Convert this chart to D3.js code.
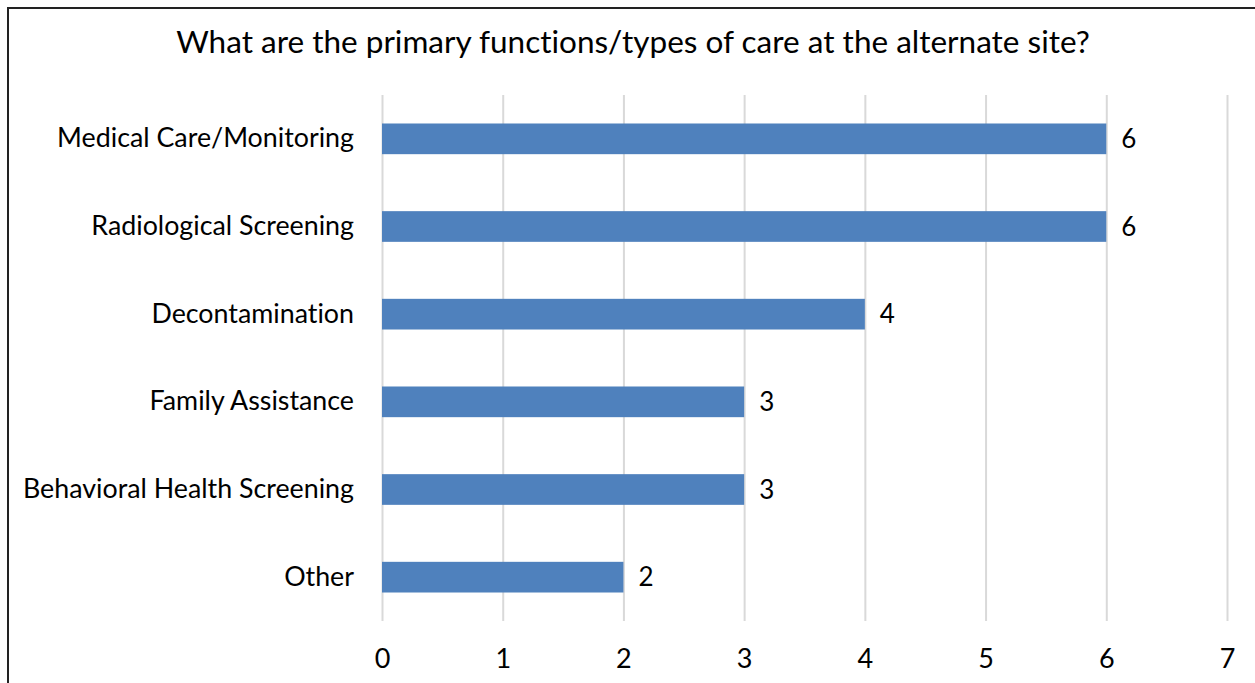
<!DOCTYPE html>
<html>
<head>
<meta charset="utf-8">
<script src="https://cdn.jsdelivr.net/npm/d3@7"></script>
<style>
  html, body { margin: 0; padding: 0; background: #fff; }
  svg { display: block; }
  text { font-family: Lato, "Open Sans", sans-serif; fill: #000; font-variant-ligatures: none; font-feature-settings: "liga" 0, "clig" 0; }
</style>
</head>
<body>
<svg id="chart" width="1255" height="683"></svg>
<script>
const title = "What are the primary functions/types of care at the alternate site?";
const categories = ["Medical Care/Monitoring", "Radiological Screening", "Decontamination", "Family Assistance", "Behavioral Health Screening", "Other"];
const values = [6, 6, 4, 3, 3, 2];
const xTicks = [0, 1, 2, 3, 4, 5, 6, 7];

const svg = d3.select("#chart");
const W = 1255, H = 683;

// frame
svg.append("rect").attr("x", 8).attr("y", 8).attr("width", W + 10).attr("height", H + 10)
  .attr("fill", "none").attr("stroke", "#222").attr("stroke-width", 2);

const x = d3.scaleLinear().domain([0, 7]).range([382, 1227]);
const y = d3.scaleBand().domain(categories).range([95, 621]).paddingInner(0.65).paddingOuter(0.325);

// title
svg.append("text").attr("x", 633).attr("y", 53).attr("text-anchor", "middle")
  .style("font-size", "31.5px").text(title);

// gridlines
const grid = svg.append("g").attr("transform", "translate(0,621)")
  .call(d3.axisBottom(x).tickValues(xTicks).tickSize(-526).tickFormat(""));
grid.select(".domain").remove();
grid.selectAll(".tick line").attr("stroke", "#d9d9d9").attr("stroke-width", 2);

// x tick labels
const xa = svg.append("g").attr("transform", "translate(0,621)")
  .call(d3.axisBottom(x).tickValues(xTicks).tickSize(0).tickPadding(0).tickFormat(d3.format("d")));
xa.select(".domain").remove();
xa.selectAll(".tick text").attr("y", 38).attr("dy", "0.35em").style("font-size", "27px").attr("fill", "#000");

// y labels
const ya = svg.append("g").attr("transform", "translate(382,0)")
  .call(d3.axisLeft(y).tickSize(0).tickPadding(28));
ya.select(".domain").remove();
ya.selectAll(".tick text").style("font-size", "26.8px").attr("fill", "#000");

// bars
svg.append("g").selectAll("rect").data(values).join("rect")
  .attr("x", x(0))
  .attr("y", (d, i) => y(categories[i]))
  .attr("width", d => x(d) - x(0))
  .attr("height", y.bandwidth())
  .attr("fill", "#4F81BD");

// value labels
svg.append("g").selectAll("text").data(values).join("text")
  .attr("x", d => x(d) + 15)
  .attr("y", (d, i) => y(categories[i]) + y.bandwidth() / 2)
  .attr("dy", "0.35em")
  .style("font-size", "26px")
  .text(d => d);
</script>
</body>
</html>
